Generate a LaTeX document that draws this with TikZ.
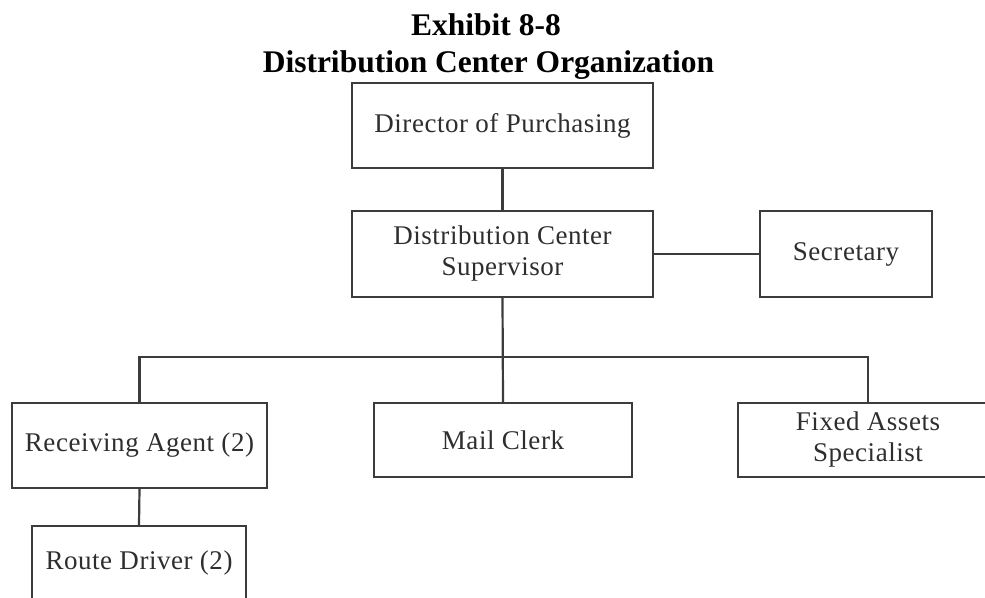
\documentclass[tikz,border=0pt]{standalone}
\usepackage{fontspec}
\setmainfont{Liberation Serif}
\newfontfamily\boxfont[LetterSpace=2]{Liberation Serif}
\usetikzlibrary{positioning}
\definecolor{inkline}{HTML}{3C3C3C}
\definecolor{inktext}{HTML}{2E2E2E}
\tikzset{
  orgbox/.style={draw=inkline, line width=2.2pt, fill=white, inner sep=0pt,
    align=center, text=inktext,
    font=\boxfont\fontsize{27}{31}\selectfont},
  orgline/.style={draw=inkline, line width=2.2pt},
  heading/.style={anchor=base, inner sep=0pt,
    font=\bfseries\fontsize{31.5}{37}\selectfont}
}
\begin{document}
\begin{tikzpicture}[x=1pt, y=-1pt]
  \useasboundingbox (0,0) rectangle (985,597);
  \clip (0,0) rectangle (985,597);
  \fill[white] (0,0) rectangle (985,597);

  % headings
  \node[heading] (title1) at (486,35) {Exhibit 8-8};
  \node[heading] (title2) at (488.5,72) {Distribution Center Organization};

  % boxes
  \node[orgbox, minimum width=301pt, minimum height=85pt] (dir) at (502.5,125.5) {Director of Purchasing};
  \node[orgbox, minimum width=301pt, minimum height=86pt] (sup) at (502.5,254) {Distribution Center\\Supervisor};
  \node[orgbox, minimum width=172pt, minimum height=86pt] (sec) at (846,254) {Secretary};
  \node[orgbox, minimum width=255pt, minimum height=85pt] (rec) at (139.5,445.5) {Receiving Agent (2)};
  \node[orgbox, minimum width=258pt, minimum height=74pt] (mail) at (503,440) {Mail Clerk};
  \node[orgbox, minimum width=260pt, minimum height=74pt] (fix) at (868,440) {Fixed Assets\\Specialist};
  \node[orgbox, minimum width=214pt, minimum height=74pt] (drv) at (139,563) {Route Driver (2)};

  % reporting lines
  \coordinate (bus) at (503,357);
  \draw[orgline] (dir.south) -- (sup.north);
  \draw[orgline] (sup.east) -- (sec.west);
  \draw[orgline] (sup.south) -- (mail.north);
  \draw[orgline] (rec.north) -- (rec.north |- bus) -| (fix.north);
  \draw[orgline] (rec.south) -- (drv.north);
\end{tikzpicture}
\end{document}
